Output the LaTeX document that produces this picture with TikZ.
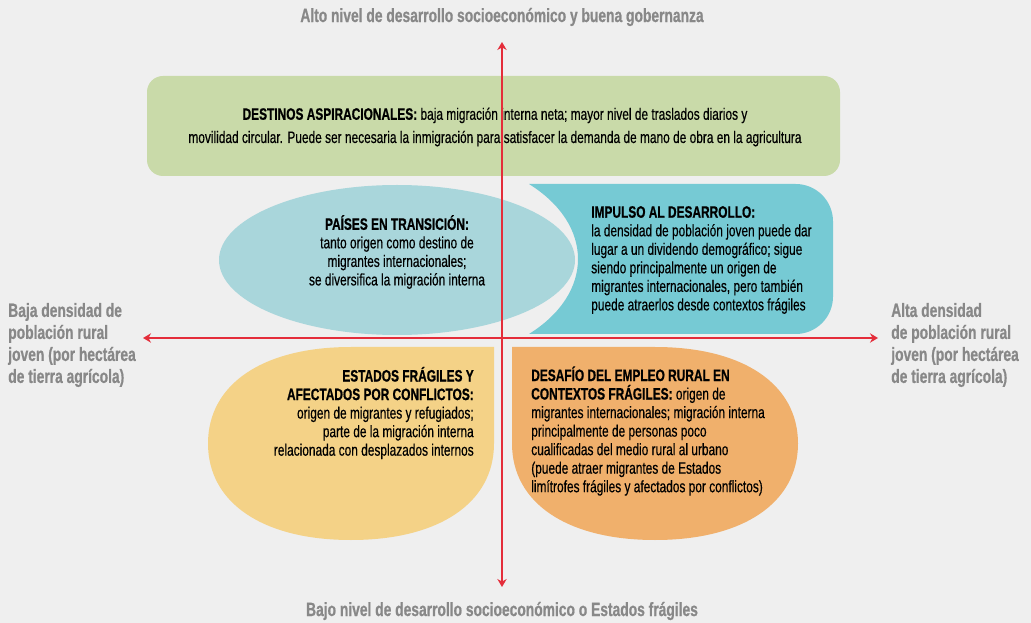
\documentclass[tikz,border=0pt]{standalone}
\usepackage{fontspec}
\setmainfont{Liberation Sans}[FakeStretch=0.72, UprightFeatures={FakeBold=0.4}, BoldFeatures={FakeBold=0.7}]
\usetikzlibrary{arrows.meta}
\definecolor{bgc}{HTML}{EFEFEF}
\definecolor{greenc}{HTML}{C9DAA9}
\definecolor{palec}{HTML}{A9D6DB}
\definecolor{tealc}{HTML}{76CAD4}
\definecolor{yellowc}{HTML}{F4D287}
\definecolor{orangec}{HTML}{F0B06C}
\definecolor{grayc}{HTML}{888888}
\definecolor{redc}{HTML}{E42D3A}
\begin{document}
\begin{tikzpicture}[x=0.75pt,y=-0.75pt,
  txt/.style={inner sep=0pt, text=black, font=\fontsize{12.4}{13.9}\selectfont},
  lbl/.style={inner sep=0pt, text=grayc, font=\bfseries\fontsize{14.4}{16.5}\selectfont},
  axis/.style={draw=redc, line width=1pt, {Stealth[length=6pt,width=7pt]}-{Stealth[length=6pt,width=7pt]}}]
\fill[bgc] (0,0) rectangle (1031,623);
\useasboundingbox (0,0) rectangle (1031,623);
% green box
\fill[greenc, rounded corners=12pt] (147,76) rectangle (840,176);
% teal shape
\fill[tealc] (529,184) [rounded corners=28pt] -- (833,184) -- (833,334) [sharp corners] -- (529,334)
  .. controls (561,314) and (578,287) .. (578,259)
  .. controls (578,231) and (561,204) .. (529,184) -- cycle;
% pale ellipse
\fill[palec] (397,260) ellipse [x radius=133.5pt, y radius=56.25pt];
% yellow shape
\fill[yellowc] (494,347) -- (494,443.5)
  .. controls (494,503) and (439,540) .. (351,540)
  .. controls (263,540) and (208,503) .. (208,443.5)
  .. controls (208,384) and (263,347) .. (351,347) -- cycle;
% orange shape
\fill[orangec] (512,347) -- (655,347)
  .. controls (743,347) and (798,384) .. (798,443.5)
  .. controls (798,503) and (743,540) .. (655,540)
  .. controls (567,540) and (512,503) .. (512,443.5) -- cycle;
% texts
\node[txt, align=center, font=\fontsize{12.4}{17.4}\selectfont] (destinos) at (495,127)
  {\textbf{DESTINOS ASPIRACIONALES:} baja migración interna neta; mayor nivel de traslados diarios y\\
   movilidad circular. Puede ser necesaria la inmigración para satisfacer la demanda de mano de obra en la agricultura};
\node[txt, align=center] (paises) at (397,252)
  {\textbf{PAÍSES EN TRANSICIÓN:}\\ tanto origen como destino de\\ migrantes internacionales;\\ se diversifica la migración interna};
\node[txt, align=left, anchor=west] (impulso) at (591,260)
  {\textbf{IMPULSO AL DESARROLLO:}\\ la densidad de población joven puede dar\\ lugar a un dividendo demográfico; sigue\\ siendo principalmente un origen de\\ migrantes internacionales, pero también\\ puede atraerlos desde contextos frágiles};
\node[txt, align=right, anchor=east] (estados) at (474,413)
  {\textbf{ESTADOS FRÁGILES Y}\\ \textbf{AFECTADOS POR CONFLICTOS:}\\ origen de migrantes y refugiados;\\ parte de la migración interna\\ relacionada con desplazados internos};
\node[txt, align=left, anchor=west] (desafio) at (531,431)
  {\textbf{DESAFÍO DEL EMPLEO RURAL EN}\\ \textbf{CONTEXTOS FRÁGILES:} origen de\\ migrantes internacionales; migración interna\\ principalmente de personas poco\\ cualificadas del medio rural al urbano\\ (puede atraer migrantes de Estados\\ limítrofes frágiles y afectados por conflictos)};
% axis labels
\node[lbl] (ltop) at (502,17) {Alto nivel de desarrollo socioeconómico y buena gobernanza};
\node[lbl] (lbot) at (502,611) {Bajo nivel de desarrollo socioeconómico o Estados frágiles};
\node[lbl, align=left, anchor=west] (lleft) at (8,345) {Baja densidad de\\ población rural\\ joven (por hectárea\\ de tierra agrícola)};
\node[lbl, align=left, anchor=west] (lright) at (891,345) {Alta densidad\\ de población rural\\ joven (por hectárea\\ de tierra agrícola)};
% axes
\coordinate (atop) at (502,42);
\coordinate (abot) at (502,587);
\coordinate (aleft) at (143,338);
\coordinate (aright) at (878,338);
\draw[axis] (atop) -- (abot);
\draw[axis] (aleft) -- (aright);
\end{tikzpicture}
\end{document}
